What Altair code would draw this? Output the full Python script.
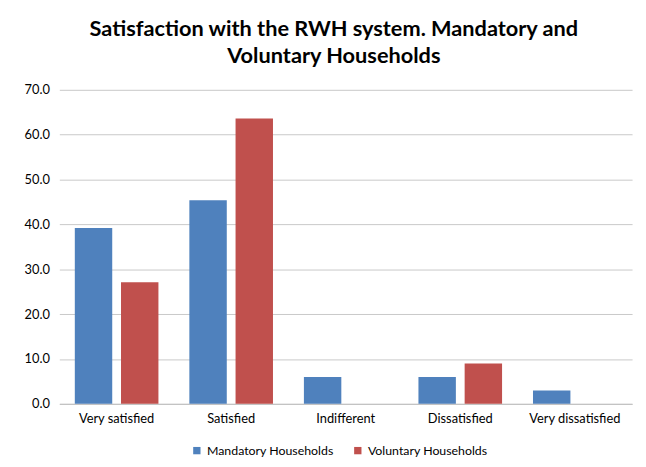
import altair as alt
import pandas as pd

categories = ["Very satisfied", "Satisfied", "Indifferent", "Dissatisfied", "Very dissatisfied"]
series = ["Mandatory  Households", "Voluntary Households"]
mandatory = [39.2, 45.4, 6.0, 6.0, 3.0]
voluntary = [27.1, 63.6, 0.0, 9.0, 0.0]
colors = ["#4F81BD", "#C0504D"]

rows = []
for c, m, v in zip(categories, mandatory, voluntary):
    rows.append({"category": c, "series": series[0], "value": m})
    rows.append({"category": c, "series": series[1], "value": v})
df = pd.DataFrame(rows)

font = "Lato"

chart = alt.Chart(df).mark_bar().encode(
    x=alt.X("category:N", sort=categories, title=None,
            scale=alt.Scale(paddingInner=0.27, paddingOuter=0.135),
            axis=alt.Axis(labelAngle=0, ticks=False, domainColor="#bfbfbf",
                          labelFontSize=13, labelPadding=9, labelColor="#000000", labelFont=font)),
    xOffset=alt.XOffset("series:N", sort=series, scale=alt.Scale(paddingInner=0.19, paddingOuter=0)),
    y=alt.Y("value:Q", title=None,
            scale=alt.Scale(domain=[0, 70]),
            axis=alt.Axis(values=[0, 10, 20, 30, 40, 50, 60, 70], format=".1f", domain=False, ticks=False,
                          gridColor="#c8c8c8", labelFontSize=13, labelPadding=10,
                          labelColor="#000000", labelFont=font)),
    color=alt.Color("series:N", sort=series, scale=alt.Scale(domain=series, range=colors),
                    legend=alt.Legend(title=None, orient="none", direction="horizontal",
                                      legendX=133, legendY=359, symbolType="square",
                                      symbolSize=55, labelFontSize=12.5, labelFont=font,
                                      labelColor="#000000", columnPadding=14, labelOffset=4)),
).properties(
    width=580, height=318,
    title=alt.TitleParams("Satisfaction with the RWH system. Mandatory and",
                          subtitle="Voluntary Households", fontSize=22, subtitleFontSize=22,
                          font=font, subtitleFont=font, fontWeight="bold", subtitleFontWeight="bold",
                          color="#000000", subtitleColor="#000000", anchor="middle", offset=16,
                          subtitlePadding=6, dx=-12),
    autosize=alt.AutoSizeParams(type="none"),
    padding={"left": 52, "top": 80, "right": 6, "bottom": 53},
).configure_view(stroke=None)

chart.save("out.html", embed_options={"renderer": "svg", "actions": False})
